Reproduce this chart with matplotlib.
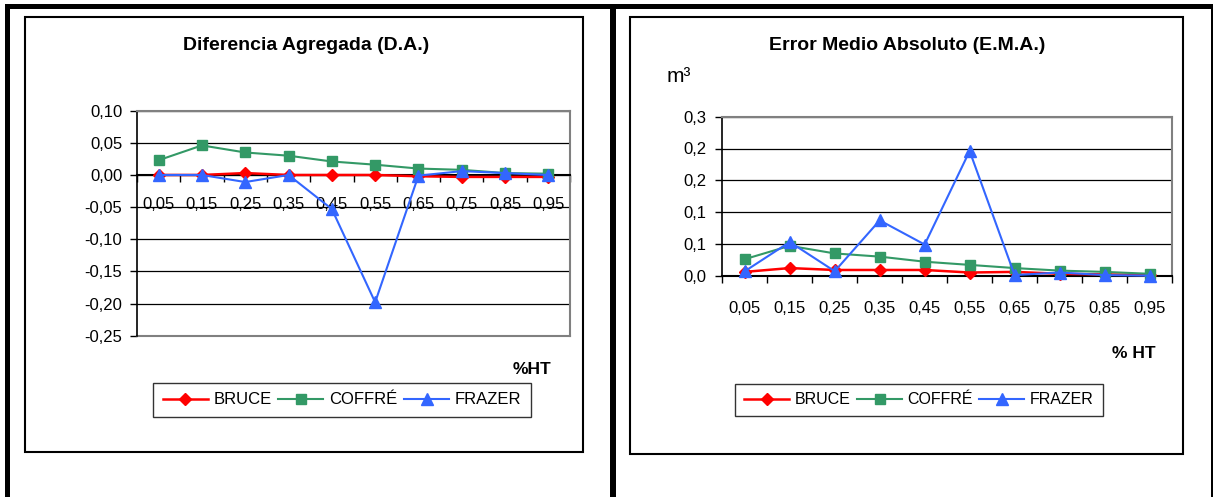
import numpy as np
import matplotlib
matplotlib.use("Agg")
import matplotlib.pyplot as plt
from matplotlib.patches import Rectangle
from matplotlib.lines import Line2D

# ── Data ───────────────────────────────────────────────────────────────────────
HT_LABELS = ["0,05", "0,15", "0,25", "0,35", "0,45", "0,55", "0,65", "0,75", "0,85", "0,95"]
SERIES = ["BRUCE", "COFFRÉ", "FRAZER"]

# Diferencia Agregada (D.A.)
DA_BRUCE = [0.000, 0.000, 0.003, 0.000, 0.000, 0.000, -0.002, -0.003, -0.003, -0.003]
DA_COFFRE = [0.023, 0.046, 0.035, 0.030, 0.021, 0.016, 0.010, 0.008, 0.003, 0.002]
DA_FRAZER = [0.000, 0.000, -0.011, 0.000, -0.053, -0.198, -0.001, 0.006, 0.003, 0.000]
DA_YTICKS = [-0.25, -0.20, -0.15, -0.10, -0.05, 0.00, 0.05, 0.10]
DA_YLABELS = ["-0,25", "-0,20", "-0,15", "-0,10", "-0,05", "0,00", "0,05", "0,10"]

# Error Medio Absoluto (E.M.A.)
EMA_BRUCE = [0.006, 0.012, 0.009, 0.009, 0.009, 0.005, 0.006, 0.003, 0.002, 0.001]
EMA_COFFRE = [0.026, 0.047, 0.035, 0.030, 0.022, 0.017, 0.012, 0.008, 0.006, 0.003]
EMA_FRAZER = [0.007, 0.053, 0.007, 0.087, 0.049, 0.196, 0.001, 0.005, 0.001, 0.000]
EMA_YTICKS = [0.00, 0.05, 0.10, 0.15, 0.20, 0.25]
EMA_YLABELS = ["0,0", "0,1", "0,1", "0,2", "0,2", "0,3"]

# ── Style ──────────────────────────────────────────────────────────────────────
W, H = 1213, 497
FONT = "Liberation Sans"
COLORS = ["#FF0000", "#339966", "#3366FF"]
MARKERS = ["D", "s", "^"]
MSIZES = [6.5, 6.5, 8]
LWIDTHS = [1.8, 1.5, 1.5]
GREY = "#808080"

plt.rcParams.update({
    "font.family": FONT,
    "font.size": 12,
    "text.color": "black",
    "xtick.color": "black",
    "ytick.color": "black",
})


def fx(x):
    return x / W


def fy(y):
    return 1 - y / H


def add_axes(fig, x0, y0, x1, y1):
    return fig.add_axes([fx(x0), fy(y1), (x1 - x0) / W, (y1 - y0) / H])


def px_rect(fig, x0, y0, x1, y1, **kw):
    fig.add_artist(Rectangle((fx(x0), fy(y1)), (x1 - x0) / W, (y1 - y0) / H,
                             transform=fig.transFigure, **kw))


def draw_series(ax, values_list):
    x = np.arange(len(HT_LABELS))
    for vals, name, c, m, ms, lw in zip(values_list, SERIES, COLORS, MARKERS, MSIZES, LWIDTHS):
        ax.plot(x, vals, color=c, marker=m, markersize=ms, linewidth=lw,
                markeredgecolor=c, label=name, zorder=3, clip_on=False)


def style_axes(ax, yticks, ylabels, ypad, xpad):
    n = len(HT_LABELS)
    ax.set_xlim(-0.5, n - 0.5)
    ax.set_ylim(yticks[0], yticks[-1])
    ax.set_yticks(yticks)
    ax.set_yticklabels(ylabels, fontsize=12)
    ax.set_xticks(np.arange(n))
    ax.set_xticklabels(HT_LABELS, fontsize=12)
    ax.set_xticks(np.arange(n + 1) - 0.5, minor=True)
    ax.tick_params(axis="x", which="major", length=0, pad=xpad)
    ax.tick_params(axis="x", which="minor", length=5, width=1, direction="out")
    ax.tick_params(axis="y", which="major", length=5, width=1, direction="out", pad=ypad)
    ax.yaxis.grid(True, color="black", linewidth=0.9)
    ax.set_axisbelow(True)
    ax.spines["left"].set_color("black")
    ax.spines["left"].set_linewidth(1.2)
    for s in ("top", "right"):
        ax.spines[s].set_color(GREY)
        ax.spines[s].set_linewidth(1.5)
    ax.spines["bottom"].set_color("black")
    ax.spines["bottom"].set_linewidth(1.5)
    ax.set_facecolor("white")


def add_legend(fig, cx, cy, size):
    handles = [Line2D([], [], color=c, marker=m, markersize=ms, linewidth=lw, markeredgecolor=c)
               for c, m, ms, lw in zip(COLORS, MARKERS, MSIZES, LWIDTHS)]
    hl = 45 / (size * 100 / 72)
    leg = fig.legend(handles, SERIES, loc="center", bbox_to_anchor=(fx(cx), fy(cy)),
                     ncol=3, fontsize=size, frameon=True, fancybox=False, shadow=False,
                     edgecolor="black", handlelength=hl, handletextpad=0.35,
                     columnspacing=0.4, borderpad=0.55, borderaxespad=0)
    leg.get_frame().set_linewidth(1.0)
    return leg


fig = plt.figure(figsize=(W / 100, H / 100), dpi=100)
fig.patch.set_facecolor("white")

# ── Outer page lines ──────────────────────────────────────────────────────────
px_rect(fig, 5, 4, W, 9, facecolor="black", edgecolor="none")
px_rect(fig, 5, 4, 10, H, facecolor="black", edgecolor="none")
px_rect(fig, 610, 4, 616, H, facecolor="black", edgecolor="none")
px_rect(fig, 1211, 4, W + 2, H, facecolor="black", edgecolor="none")

# ── Chart frames ──────────────────────────────────────────────────────────────
px_rect(fig, 25, 17, 583, 452, facecolor="none", edgecolor="black", linewidth=1.5)
px_rect(fig, 630, 17, 1183, 454, facecolor="none", edgecolor="black", linewidth=1.5)

# ── Left: Diferencia Agregada ────────────────────────────────────────────────
ax1 = add_axes(fig, 137, 110.7, 570, 335.7)
style_axes(ax1, DA_YTICKS, DA_YLABELS, ypad=5.5, xpad=16)
ax1.spines["bottom"].set_position(("data", 0))
ax1.axhline(DA_YTICKS[0], color=GREY, linewidth=1.5, clip_on=False, zorder=2)
draw_series(ax1, [DA_BRUCE, DA_COFFRE, DA_FRAZER])
fig.text(fx(306), fy(46), "Diferencia Agregada (D.A.)", ha="center", va="center",
         fontsize=14, fontweight="bold")
fig.text(fx(532), fy(370), "%HT", ha="center", va="center", fontsize=12.5, fontweight="bold")
add_legend(fig, 342, 400, 12)

# ── Right: Error Medio Absoluto ──────────────────────────────────────────────
ax2 = add_axes(fig, 722.3, 116.7, 1172, 275.7)
style_axes(ax2, EMA_YTICKS, EMA_YLABELS, ypad=6.5, xpad=18.5)
draw_series(ax2, [EMA_BRUCE, EMA_COFFRE, EMA_FRAZER])
fig.text(fx(907), fy(46), "Error Medio Absoluto (E.M.A.)", ha="center", va="center",
         fontsize=14, fontweight="bold")
fig.text(fx(679), fy(77), "m³", ha="center", va="center", fontsize=15)
fig.text(fx(1134), fy(353), "% HT", ha="center", va="center", fontsize=12.5, fontweight="bold")
add_legend(fig, 919, 400, 11.5)

fig.savefig("out.png", dpi=100, facecolor="white")
plt.close(fig)
